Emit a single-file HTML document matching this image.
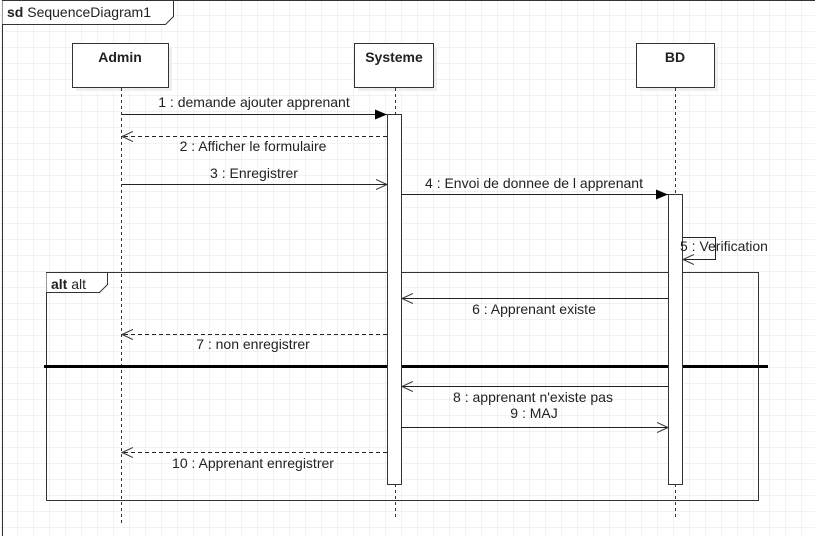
<!DOCTYPE html><html><head><style>body{margin:0;background:#fff}svg{display:block}text{font-family:"Liberation Sans",sans-serif;font-size:14px;fill:#222}</style></head><body>
<svg width="815" height="536" xmlns="http://www.w3.org/2000/svg">
<defs><pattern id="g" width="16" height="16" patternUnits="userSpaceOnUse" x="2" y="0"><path d="M16 0V16M0 16H16" stroke="#e6e6e6" stroke-width="1" fill="none"/></pattern>
<marker id="f" markerWidth="12" markerHeight="10" refX="12" refY="5" orient="auto" markerUnits="userSpaceOnUse"><path d="M0 0L12 5L0 10z" fill="#000"/></marker>
<marker id="o" markerWidth="12" markerHeight="12" refX="11" refY="6" orient="auto" markerUnits="userSpaceOnUse"><path d="M0 1L11 6L0 11" fill="none" stroke="#333"/></marker></defs>
<rect width="815" height="536" fill="url(#g)"/>
<path d="M2.5 536V0.5H815" fill="none" stroke="#333"/>
<path d="M2.5 0.5H173.5V16.5L165.5 24.5H2.5" fill="#fff" stroke="#333"/>
<text x="7" y="17"><tspan font-weight="bold">sd</tspan> SequenceDiagram1</text>
<g fill="#eee"><rect x="76" y="47" width="96" height="44"/><rect x="358" y="47" width="79" height="44"/><rect x="640" y="47" width="78" height="44"/></g>
<g fill="#fff" stroke="#333"><rect x="72.5" y="43.5" width="96" height="44"/><rect x="354.5" y="43.5" width="79" height="44"/><rect x="636.5" y="43.5" width="78" height="44"/></g>
<g font-weight="bold" text-anchor="middle" style="font-size:13px"><text x="120" y="62">Admin</text><text x="394" y="62">Systeme</text><text x="675" y="62">BD</text></g>
<g stroke="#333" stroke-dasharray="3,3"><path d="M121.5 88V526M395.5 88V518M675.5 88V520"/></g>
<rect x="46.5" y="272.5" width="712" height="228" fill="none" stroke="#333"/>
<path d="M46.5 272.5H107.5V284.5L99.5 292.5H46.5" fill="#fff" stroke="#333"/>
<text x="51" y="289"><tspan font-weight="bold">alt</tspan> alt</text>
<path d="M44 366.5H768" stroke="#000" stroke-width="3"/>
<g fill="#fff" stroke="#333"><rect x="387.5" y="114.5" width="14" height="370"/><rect x="668.5" y="194.5" width="14" height="290"/></g>
<g stroke="#222" fill="none">
<path d="M121.5 114.5H387" marker-end="url(#f)"/>
<path d="M387 136.5H122" stroke-dasharray="4,3" marker-end="url(#o)"/>
<path d="M121.5 184.5H387" marker-end="url(#o)"/>
<path d="M401.5 194.5H668" marker-end="url(#f)"/>
<path d="M682.5 237.5H715.5V259.5H683" marker-end="url(#o)"/>
<path d="M668 298.5H402" marker-end="url(#o)"/>
<path d="M387 334.5H122" stroke-dasharray="4,3" marker-end="url(#o)"/>
<path d="M668 386.5H402" marker-end="url(#o)"/>
<path d="M401.5 427.5H668" marker-end="url(#o)"/>
<path d="M387 452.5H122" stroke-dasharray="4,3" marker-end="url(#o)"/>
</g>
<g text-anchor="middle">
<text x="254" y="107">1 : demande ajouter apprenant</text>
<text x="253" y="151">2 : Afficher le formulaire</text>
<text x="254" y="178">3 : Enregistrer</text>
<text x="534" y="188">4 : Envoi de donnee de l apprenant</text>
<text x="534" y="314">6 : Apprenant existe</text>
<text x="253" y="349">7 : non enregistrer</text>
<text x="533" y="402">8 : apprenant n'existe pas</text>
<text x="534" y="418">9 : MAJ</text>
<text x="253" y="468">10 : Apprenant enregistrer</text>
</g>
<text x="680" y="251">5 : Verification</text>
</svg></body></html>
